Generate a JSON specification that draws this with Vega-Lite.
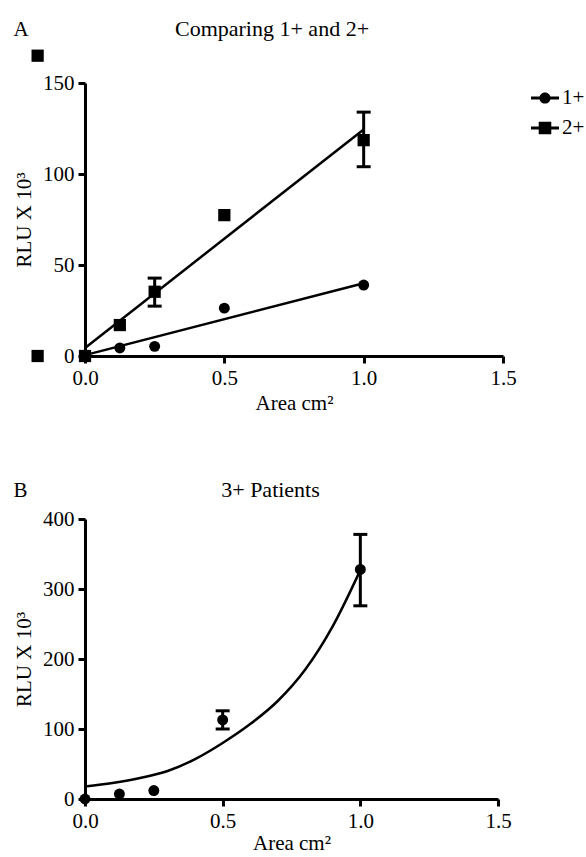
{
  "$schema": "https://vega.github.io/schema/vega-lite/v6.json",
  "padding": {"left": 13, "top": 17, "right": 0, "bottom": 0},
  "background": "white",
  "config": {
    "font": "Liberation Serif",
    "view": {"stroke": null},
    "axis": {
      "grid": false, "domainColor": "black", "domainWidth": 3, "tickColor": "black", "tickWidth": 3, "tickSize": 7,
      "labelColor": "black", "labelFontSize": 21, "labelFont": "Liberation Serif", "labelPadding": 4, "labelFlush": false,
      "titleColor": "black", "titleFontSize": 21, "titleFontWeight": "normal", "titleFont": "Liberation Serif"
    },
    "title": {"fontSize": 22, "fontWeight": "normal", "color": "black", "font": "Liberation Serif"},
    "legend": {"labelFontSize": 21, "labelFont": "Liberation Serif", "labelColor": "black", "symbolSize": 784, "labelOffset": 2, "rowPadding": 5, "offset": 13, "padding": 0}
  },
  "datasets": {
    "a_points": [
      {"series": "1+", "area": 0, "rlu": 0},
      {"series": "1+", "area": 0.125, "rlu": 4.4},
      {"series": "1+", "area": 0.25, "rlu": 5.3},
      {"series": "1+", "area": 0.5, "rlu": 26.3},
      {"series": "1+", "area": 1.0, "rlu": 39},
      {"series": "2+", "area": 0, "rlu": 0},
      {"series": "2+", "area": 0.125, "rlu": 17},
      {"series": "2+", "area": 0.25, "rlu": 35.3},
      {"series": "2+", "area": 0.5, "rlu": 77.4},
      {"series": "2+", "area": 1.0, "rlu": 118.6}
    ],
    "a_fit": [
      {"series": "1+", "area": 0, "rlu": 0.5},
      {"series": "1+", "area": 1.0, "rlu": 40},
      {"series": "2+", "area": 0, "rlu": 4.4},
      {"series": "2+", "area": 1.0, "rlu": 124.5}
    ],
    "a_err": [
      {"series": "2+", "area": 0.25, "lo": 27.4, "hi": 42.8},
      {"series": "2+", "area": 1.0, "lo": 104, "hi": 134}
    ],
    "a_stray": [
      {"area": -0.17, "rlu": 165},
      {"area": -0.17, "rlu": 0}
    ],
    "b_points": [
      {"area": 0, "rlu": 0},
      {"area": 0.125, "rlu": 7},
      {"area": 0.25, "rlu": 12},
      {"area": 0.5, "rlu": 113},
      {"area": 1.0, "rlu": 328}
    ],
    "b_fit": [
      {"area": 0, "rlu": 18},
      {"area": 0.1, "rlu": 23},
      {"area": 0.2, "rlu": 30},
      {"area": 0.3, "rlu": 40},
      {"area": 0.4, "rlu": 57},
      {"area": 0.5, "rlu": 80},
      {"area": 0.6, "rlu": 107},
      {"area": 0.7, "rlu": 140},
      {"area": 0.8, "rlu": 185},
      {"area": 0.9, "rlu": 247},
      {"area": 1.0, "rlu": 327}
    ],
    "b_err": [
      {"area": 0.5, "lo": 100, "hi": 126},
      {"area": 1.0, "lo": 276, "hi": 378}
    ]
  },
  "spacing": 66,
  "vconcat": [
    {
      "title": {"text": "A", "anchor": "start", "fontSize": 21, "offset": -22, "dx": 0},
      "vconcat": [
        {
          "title": {"text": "Comparing 1+ and 2+", "dx": -22, "offset": 9},
          "width": 418,
          "height": 273,
          "layer": [
            {
              "data": {"name": "a_fit"},
              "mark": {"type": "line", "color": "black", "strokeWidth": 2.5},
              "encoding": {
                "x": {"field": "area", "type": "quantitative", "title": "Area cm²", "scale": {"domain": [0, 1.5], "nice": false},
                      "axis": {"values": [0, 0.5, 1, 1.5], "format": ".1f", "labelFlush": false, "titlePadding": 4}},
                "y": {"field": "rlu", "type": "quantitative", "title": "RLU X 10³", "scale": {"domain": [0, 150], "nice": false},
                      "axis": {"values": [0, 50, 100, 150], "labelFlush": false, "titlePadding": 8}},
                "detail": {"field": "series"}
              }
            },
            {
              "data": {"name": "a_err"},
              "mark": {"type": "errorbar", "color": "black", "ticks": {"size": 14, "thickness": 3, "color": "black", "opacity": 1}, "rule": {"strokeWidth": 3, "color": "black", "opacity": 1}},
              "encoding": {
                "x": {"field": "area", "type": "quantitative", "title": "Area cm²"},
                "y": {"field": "lo", "type": "quantitative", "title": "RLU X 10³"},
                "y2": {"field": "hi"}
              }
            },
            {
              "data": {"name": "a_points"},
              "transform": [{"filter": "datum.series === '1+'"}],
              "mark": {"type": "point", "shape": "circle", "filled": true, "color": "black", "opacity": 1, "size": 120},
              "encoding": {
                "x": {"field": "area", "type": "quantitative", "title": "Area cm²"},
                "y": {"field": "rlu", "type": "quantitative", "title": "RLU X 10³"}
              }
            },
            {
              "data": {"name": "a_points"},
              "transform": [{"filter": "datum.series === '2+'"}],
              "mark": {"type": "point", "shape": "square", "filled": true, "color": "black", "opacity": 1, "size": 150},
              "encoding": {
                "x": {"field": "area", "type": "quantitative", "title": "Area cm²"},
                "y": {"field": "rlu", "type": "quantitative", "title": "RLU X 10³"}
              }
            },
            {
              "data": {"name": "a_stray"},
              "mark": {"type": "point", "shape": "square", "filled": true, "color": "black", "opacity": 1, "size": 150, "clip": false},
              "encoding": {
                "x": {"field": "area", "type": "quantitative", "title": "Area cm²"},
                "y": {"field": "rlu", "type": "quantitative", "title": "RLU X 10³"}
              }
            },
            {
              "data": {"name": "a_fit"},
              "mark": {"type": "point", "filled": true, "color": "black", "opacity": 0, "size": 784},
              "encoding": {
                "x": {"field": "area", "type": "quantitative", "title": "Area cm²"},
                "y": {"field": "rlu", "type": "quantitative", "title": "RLU X 10³"},
                "shape": {
                  "field": "series", "type": "nominal",
                  "scale": {"domain": ["1+", "2+"], "range": [
                    "M-1,-0.1H1V0.1H-1ZM-0.4,0A0.4,0.4,0,1,1,0.4,0A0.4,0.4,0,1,1,-0.4,0Z",
                    "M-1,-0.1H1V0.1H-1ZM-0.45,-0.45H0.45V0.45H-0.45Z"
                  ]},
                  "legend": {"title": null, "symbolOpacity": 1, "symbolFillColor": "black"}
                }
              }
            }
          ]
        }
      ]
    },
    {
      "title": {"text": "B", "anchor": "start", "fontSize": 21, "offset": -22, "dx": 0},
      "vconcat": [
        {
          "title": {"text": "3+ Patients", "dx": -21, "offset": 6},
          "width": 413,
          "height": 280,
          "layer": [
            {
              "data": {"name": "b_fit"},
              "mark": {"type": "line", "color": "black", "strokeWidth": 2.5, "interpolate": "monotone"},
              "encoding": {
                "x": {"field": "area", "type": "quantitative", "title": "Area cm²", "scale": {"domain": [0, 1.5], "nice": false},
                      "axis": {"values": [0, 0.5, 1, 1.5], "format": ".1f", "labelFlush": false, "titlePadding": 1}},
                "y": {"field": "rlu", "type": "quantitative", "title": "RLU X 10³", "scale": {"domain": [0, 400], "nice": false},
                      "axis": {"values": [0, 100, 200, 300, 400], "labelFlush": false, "titlePadding": 8}}
              }
            },
            {
              "data": {"name": "b_err"},
              "mark": {"type": "errorbar", "color": "black", "ticks": {"size": 14, "thickness": 3, "color": "black", "opacity": 1}, "rule": {"strokeWidth": 3, "color": "black", "opacity": 1}},
              "encoding": {
                "x": {"field": "area", "type": "quantitative", "title": "Area cm²"},
                "y": {"field": "lo", "type": "quantitative", "title": "RLU X 10³"},
                "y2": {"field": "hi"}
              }
            },
            {
              "data": {"name": "b_points"},
              "mark": {"type": "point", "shape": "circle", "filled": true, "color": "black", "opacity": 1, "size": 120},
              "encoding": {
                "x": {"field": "area", "type": "quantitative", "title": "Area cm²"},
                "y": {"field": "rlu", "type": "quantitative", "title": "RLU X 10³"}
              }
            }
          ]
        }
      ]
    }
  ]
}
